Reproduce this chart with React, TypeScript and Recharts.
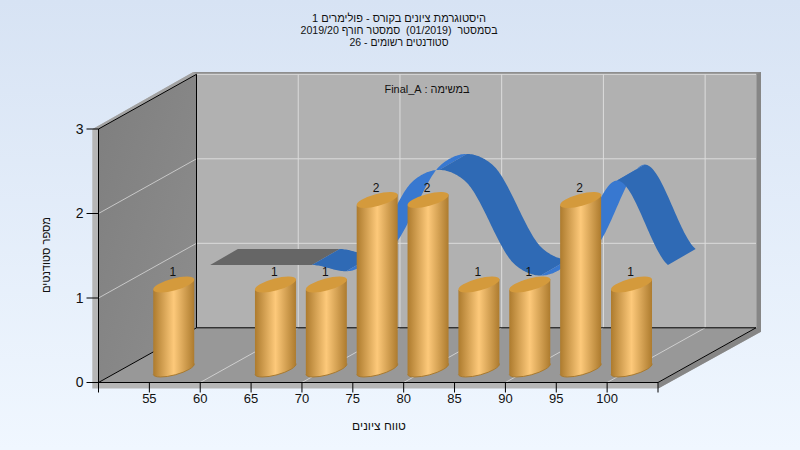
import React from "react";
import { ComposedChart, BarChart, Bar, Line, XAxis, YAxis, Customized, LabelList } from "recharts";

const grades = [55, 60, 65, 70, 75, 80, 85, 90, 95, 100];
const counts = [1, 0, 1, 1, 2, 2, 1, 1, 2, 1];
const curve = [1, 1, 1, 1, 2, 2, 1, 1, 2, 1];
const xTicks = [50, 55, 60, 65, 70, 75, 80, 85, 90, 95, 100, 105];
const yTicks = [0, 1, 2, 3];
const titleLines = [
  "היסטוגרמת ציונים בקורס - פולימרים 1",
  "בסמסטר  (01/2019)  סמסטר חורף 2019/20",
  "סטודנטים רשומים - 26",
];
const titleWidths = [174, 197, 99];
const taskLabel = "במשימה : Final_A";
const xTitle = "טווח ציונים";
const yTitle = "מספר סטודנטים";

const table = grades.map((g, i) => ({ grade: g, count: counts[i], curve: curve[i] }));

const FONT = '"Liberation Sans", Arial, sans-serif';
const L = 98.5, R = 658, T = 129, B = 382.5;
const DX = 98, DY = -54.7;
const BAR_W = 41;
const BAR_DX = 24.3, BAR_DY = -13.5;
const FRONT = { x: 60.8, y: -33 }, BACK = { x: 88.5, y: -49 };

const pxX = (v: number) => L + ((v - 50) / 55) * (R - L);
const pxY = (v: number) => B - (v / 3) * (B - T);

function Walls() {
  const bk = (x: number, y: number) => `${x + DX},${y + DY}`;
  const line = (x1: number, y1: number, x2: number, y2: number, stroke: string, k: string) => (
    <line key={k} x1={x1} y1={y1} x2={x2} y2={y2} stroke={stroke} strokeWidth={1} />
  );
  return (
    <g>
      <defs>
        <linearGradient id="sideWall" x1="0" y1="0" x2="1" y2="1">
          <stop offset="0" stopColor="#7e7e7e" />
          <stop offset="1" stopColor="#8e8e8e" />
        </linearGradient>
      </defs>
      {/* thickness of the box */}
      <polygon points={`92.3,129.3 193.3,72 761,72 761,331.7 658.3,388.5 92.3,388.5`} fill="#b6b6b6" />
      <polygon points={`756.5,72 761,72 761,331.7 658.3,388.5 658.3,382.5 756.5,327.8`} fill="#868686" />
      <polygon points={`193.3,72 761,72 756.5,74.3 196.5,74.3`} fill="#8e8e8e" />
      <polygon points={`92.3,129.3 193.3,72 196.5,74.3 98.5,129`} fill="#a2a2a2" />
      {/* faces */}
      <polygon points={`${bk(L, T)} ${bk(R, T)} ${bk(R, B)} ${bk(L, B)}`} fill="#b1b1b1" />
      <polygon points={`${L},${T} ${bk(L, T)} ${bk(L, B)} ${L},${B}`} fill="url(#sideWall)" />
      <polygon points={`${L},${B} ${R},${B} ${bk(R, B)} ${bk(L, B)}`} fill="#989898" />
      {/* grid */}
      {[1, 2, 3].map((v) => (
        <g key={v}>
          {line(L + DX, pxY(v) + DY, R + DX, pxY(v) + DY, "#dcdcdc", "b")}
          {v < 3 && line(L, pxY(v), L + DX, pxY(v) + DY, "#c8c8c8", "s")}
        </g>
      ))}
      {[60, 70, 80, 90, 100].map((v) => (
        <g key={v}>
          {line(pxX(v) + DX, T + DY, pxX(v) + DX, B + DY, "#dcdcdc", "b")}
          {line(pxX(v), B, pxX(v) + DX, B + DY, "#cfcfcf", "f")}
        </g>
      ))}
      {/* edges */}
      {line(L, T, L + DX, T + DY, "#000", "e1")}
      {line(L + DX, T + DY, L + DX, B + DY, "#000", "e2")}
      {line(L + DX, B + DY, R + DX, B + DY, "#000", "e3")}
      {line(L, B, L + DX, B + DY, "#000", "e4")}
      {line(R, B, R + DX, B + DY, "#000", "e5")}
      {/* texts */}
      <g fontFamily={FONT} fontSize={11} fill="#111" textAnchor="middle">
        {titleLines.map((t, i) => (
          <text
            key={i}
            x={399}
            y={22 + i * 12}
            xmlSpace="preserve"
            textLength={titleWidths[i]}
            lengthAdjust="spacingAndGlyphs"
            style={{ direction: "rtl", unicodeBidi: "plaintext" }}
          >
            {t}
          </text>
        ))}
        <text x={427} y={92.5} textLength={85} lengthAdjust="spacingAndGlyphs" style={{ direction: "rtl" }}>{taskLabel}</text>
        <text x={379} y={430} fontSize={12} style={{ direction: "rtl" }}>{xTitle}</text>
        <text x={0} y={0} transform="translate(50,255) rotate(-90)" textLength={76} lengthAdjust="spacingAndGlyphs" fontSize={12} style={{ direction: "rtl" }}>{yTitle}</text>
      </g>
    </g>
  );
}

function Ribbon({ points }: { points: { x: number; y: number }[] }) {
  const runs: { col: string; pts: { x: number; y: number }[] }[] = [];
  const n = points.length;
  for (let i = 0; i < n - 1; i++) {
    const p0 = points[Math.max(i - 1, 0)], p1 = points[i], p2 = points[i + 1], p3 = points[Math.min(i + 2, n - 1)];
    const m1 = (p2.y - p0.y) / 2, m2 = (p3.y - p1.y) / 2;
    const at = (t: number) => {
      const t2 = t * t, t3 = t2 * t;
      return {
        x: p1.x + (p2.x - p1.x) * t,
        y: (2 * t3 - 3 * t2 + 1) * p1.y + (t3 - 2 * t2 + t) * m1 + (-2 * t3 + 3 * t2) * p2.y + (t3 - t2) * m2,
      };
    };
    const steps = 40;
    for (let s = 0; s < steps; s++) {
      const a = at(s / steps), b = at((s + 1) / steps);
      const dy = b.y - a.y;
      const col = Math.abs(dy) < 1e-6 ? "#666666" : dy < 0 ? "#3878d0" : "#2f6ab5";
      const last = runs[runs.length - 1];
      if (last && last.col === col) last.pts.push(b);
      else runs.push({ col, pts: [a, b] });
    }
  }
  return (
    <g>
      {runs.map((r, k) => {
        const front = r.pts.map((p) => `${p.x + FRONT.x},${p.y + FRONT.y}`);
        const back = r.pts.map((p) => `${p.x + BACK.x},${p.y + BACK.y}`).reverse();
        return <polygon key={k} points={[...front, ...back].join(" ")} fill={r.col} />;
      })}
    </g>
  );
}

function CurveDot(props: any) {
  if (props.index !== 0 || !props.points) return <g key={props.index} />;
  return <Ribbon key="ribbon" points={props.points} />;
}

function Cylinder(props: any) {
  const { x, y, width, height } = props;
  if (!height || height <= 0) return null;
  const lx = x + BAR_DX, rx = lx + width;
  const ty = y + BAR_DY, by = y + height + BAR_DY;
  const skew = 5.5;
  return (
    <g>
      <path
        d={`M${lx},${ty + skew} L${lx},${by + skew} A21.2,6 -15 0 0 ${rx},${by - skew} L${rx},${ty - skew} Z`}
        fill="url(#cyl)"
      />
      <path d={`M${lx},${by + skew} A21.2,6 -15 0 0 ${rx},${by - skew}`} fill="none" stroke="#a87a30" strokeWidth={1} />
      <ellipse cx={(lx + rx) / 2} cy={ty} rx={21.2} ry={6} transform={`rotate(-15 ${(lx + rx) / 2} ${ty})`} fill="#d49a3c" />
    </g>
  );
}

function CountLabel(props: any) {
  const { x, y, width, value } = props;
  if (!value) return null;
  return (
    <text x={x + width / 2 + BAR_DX - 1} y={y - 22} textAnchor="middle" fontFamily={FONT} fontSize={12} fill="#111">
      {value}
    </text>
  );
}

const layer: React.CSSProperties = { position: "absolute", left: 0, top: 0 };

export default function App() {
  return (
    <div
      style={{
        position: "fixed",
        left: 0,
        top: 0,
        width: 800,
        height: 450,
        background: "linear-gradient(180deg,#d7e3f4 0%,#f0f7ff 100%)",
      }}
    >
      <div style={layer}>
        <ComposedChart
          width={800}
          height={450}
          data={table}
          margin={{ left: L - 60, right: 800 - R, top: T, bottom: 450 - B - 30 }}
        >
          <Customized component={Walls} />
          <XAxis
            dataKey="grade"
            type="number"
            domain={[50, 105]}
            ticks={xTicks}
            interval={0}
            height={30}
            tickSize={10}
            tickMargin={1}
            stroke="#000"
            tick={{ fill: "#111", fontSize: 13, fontFamily: FONT }}
            tickFormatter={(v: number) => (v === 50 || v === 105 ? "" : String(v))}
          />
          <YAxis
            type="number"
            domain={[0, 3]}
            ticks={yTicks}
            width={60}
            tickSize={12}
            tickMargin={3}
            stroke="#000"
            tick={{ fill: "#111", fontSize: 14, fontFamily: FONT }}
          />
          <Line
            dataKey="curve"
            stroke="none"
            isAnimationActive={false}
            dot={CurveDot}
            activeDot={false}
            legendType="none"
          />
        </ComposedChart>
      </div>
      <div style={layer}>
        <BarChart
          width={800}
          height={450}
          data={table}
          margin={{ left: L, right: 800 - R, top: T, bottom: 450 - B }}
        >
          <defs>
            <linearGradient id="cyl" x1="0" y1="0" x2="1" y2="0">
              <stop offset="0" stopColor="#ad7b2e" />
              <stop offset="0.5" stopColor="#fdc97a" />
              <stop offset="1" stopColor="#ad7b2e" />
            </linearGradient>
          </defs>
          <XAxis dataKey="grade" type="number" domain={[50, 105]} ticks={xTicks} hide />
          <YAxis type="number" domain={[0, 3]} ticks={yTicks} hide />
          <Bar dataKey="count" barSize={BAR_W} isAnimationActive={false} shape={Cylinder}>
            <LabelList dataKey="count" content={CountLabel} />
          </Bar>
        </BarChart>
      </div>
    </div>
  );
}
